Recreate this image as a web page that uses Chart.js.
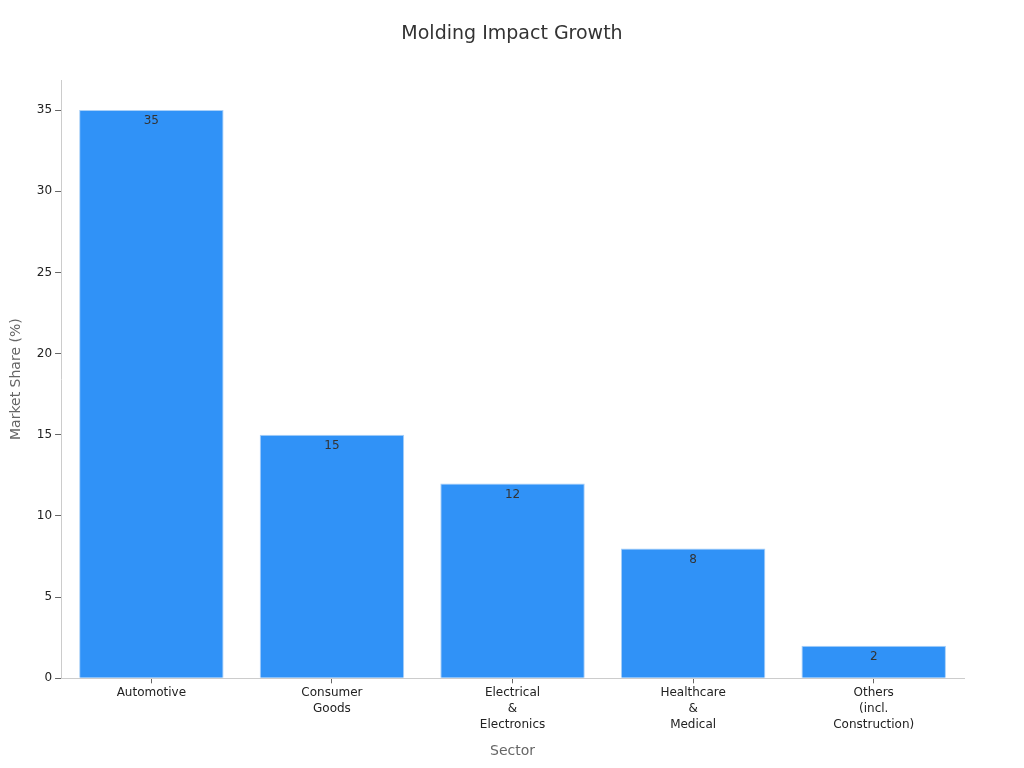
<!DOCTYPE html>
<html>
<head>
<script src="https://cdn.jsdelivr.net/npm/chart.js@4"></script>
<style>body{margin:0;background:#fff}#wrap{width:1024px;height:768px}</style>
</head>
<body>
<div id="wrap"><canvas id="c"></canvas></div>
<script>
// chart data
var sectors = [['Automotive'], ['Consumer', 'Goods'], ['Electrical', '&', 'Electronics'], ['Healthcare', '&', 'Medical'], ['Others', '(incl.', 'Construction)']];
var shares = [35, 15, 12, 8, 2];
var yTicks = [0, 5, 10, 15, 20, 25, 30, 35];
var chartTitle = 'Molding Impact Growth';

Chart.defaults.font.family = 'DejaVu Sans';

// value just inside the top of each bar, plus a title centred on the page
var extras = {
    id: 'extras',
    afterDatasetsDraw: function(chart) {
        var ctx = chart.ctx;
        var meta = chart.getDatasetMeta(0);
        ctx.save();
        ctx.fillStyle = '#333';
        ctx.font = '12px DejaVu Sans';
        ctx.textAlign = 'center';
        ctx.textBaseline = 'top';
        meta.data.forEach(function(bar, i) {
            ctx.fillText(shares[i], bar.x, bar.y + 5);
        });
        ctx.font = '19px DejaVu Sans';
        ctx.textBaseline = 'middle';
        ctx.fillText(chartTitle, chart.width / 2, 34);
        ctx.restore();
    }
};

new Chart(document.getElementById('c'), {
    type: 'bar',
    data: {
        labels: sectors,
        datasets: [{
            data: shares,
            backgroundColor: '#3092f7',
            borderColor: '#a9d0f8',
            borderWidth: 1,
            barPercentage: 0.8,
            categoryPercentage: 1
        }]
    },
    options: {
        responsive: true,
        maintainAspectRatio: false,
        animation: false,
        layout: { padding: { left: 4, right: 60, top: 80, bottom: 4 } },
        plugins: {
            legend: { display: false },
            tooltip: { enabled: false }
        },
        scales: {
            x: {
                grid: { offset: false, drawOnChartArea: false, tickLength: 5, tickColor: '#666' },
                border: { color: '#ccc' },
                ticks: { color: '#222', font: { size: 12, lineHeight: 1.33 }, maxRotation: 0, padding: 2 },
                title: { display: true, text: 'Sector', color: '#666', font: { size: 14 }, padding: { top: 8 } }
            },
            y: {
                min: 0,
                max: 36.85,
                afterBuildTicks: function(axis) {
                    axis.ticks = yTicks.map(function(v) { return { value: v }; });
                },
                afterFit: function(axis) { axis.width += 5; },
                grid: { drawOnChartArea: false, tickLength: 6, tickColor: '#666' },
                border: { color: '#ccc' },
                ticks: { color: '#222', font: { size: 12 } },
                title: { display: true, text: 'Market Share (%)', color: '#666', font: { size: 14 } }
            }
        }
    },
    plugins: [extras]
});
</script>
</body>
</html>
